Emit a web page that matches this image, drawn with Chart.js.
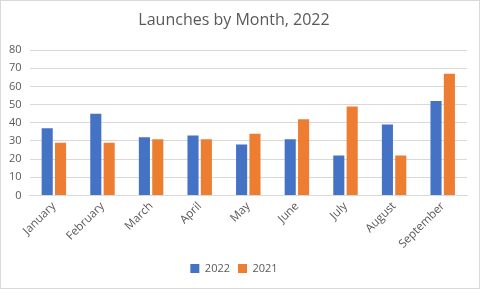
<!DOCTYPE html>
<html><head><meta charset="utf-8">
<script src="https://cdn.jsdelivr.net/npm/chart.js@4"></script>
<style>html,body{margin:0;padding:0;background:#fff}#wrap{width:480px;height:289px;position:relative;box-sizing:border-box;border:1px solid #d9d9d9}</style>
</head><body><div id="wrap"><canvas id="c"></canvas></div>
<script>
const categories = ["January","February","March","April","May","June","July","August","September"];
const series2022 = [37,45,32,33,28,31,22,39,52];
const series2021 = [29,29,31,31,34,42,49,22,67];
const yTicks = [0,10,20,30,40,50,60,70,80];
const font = "'Open Sans', 'Liberation Sans', sans-serif";
new Chart(document.getElementById('c'), {
  type: 'bar',
  data: {
    labels: categories,
    datasets: [
      {label: '2022', data: series2022, backgroundColor: '#4472c4', categoryPercentage: 0.55, barPercentage: 0.83},
      {label: '2021', data: series2021, backgroundColor: '#ed7d31', categoryPercentage: 0.55, barPercentage: 0.83}
    ]
  },
  options: {
    responsive: true, maintainAspectRatio: false, animation: false,
    layout: {padding: {left: 0, right: 12, top: 4, bottom: 4}},
    plugins: {
      title: {display: true, text: 'Launches by Month, 2022', color: '#595959', font: {family: font, size: 16, weight: 'normal'}, padding: {top: 6, bottom: 20}},
      legend: {position: 'bottom', labels: {color: '#595959', boxWidth: 9, boxHeight: 9, padding: 8, font: {family: font, size: 11}}},
      tooltip: {enabled: false}
    },
    scales: {
      x: {grid: {display: false, drawTicks: false}, border: {color: '#d9d9d9'},
          ticks: {color: '#595959', maxRotation: 45, minRotation: 45, padding: 4, font: {family: font, size: 11.5}}},
      y: {min: 0, max: 80, afterBuildTicks: a => { a.ticks = yTicks.map(v => ({value: v})); },
          grid: {color: '#d9d9d9', drawTicks: false}, border: {display: false},
          ticks: {color: '#595959', padding: 8, font: {family: font, size: 11}}}
    }
  }
});
</script></body></html>
